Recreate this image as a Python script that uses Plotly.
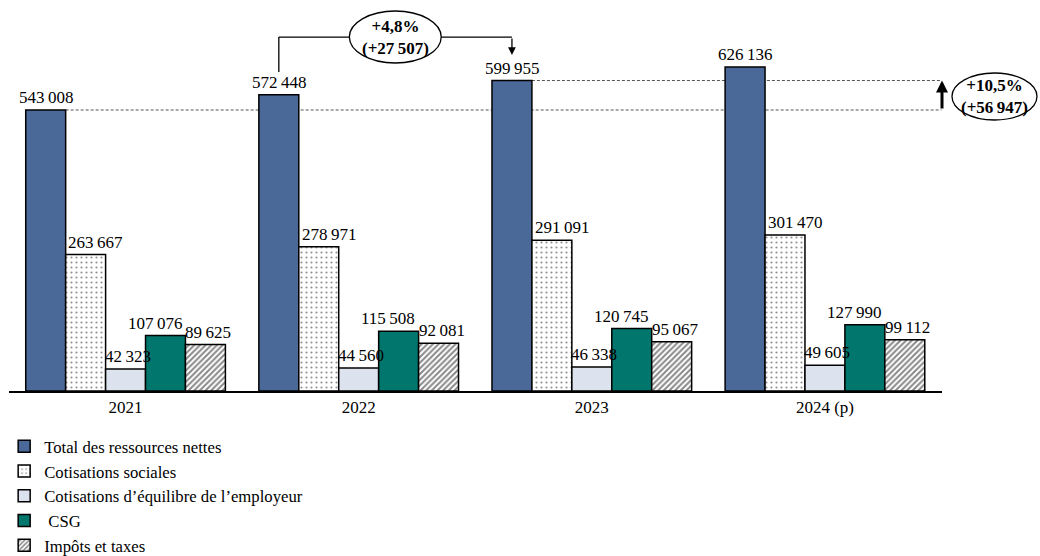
import plotly.graph_objects as go

# Years and series (values in k€)
years = ["2021", "2022", "2023", "2024 (p)"]
total_ressources = [543008, 572448, 599955, 626136]
cotisations_sociales = [263667, 278971, 291091, 301470]
cotisations_employeur = [42323, 44560, 46338, 49605]
csg = [107076, 115508, 120745, 127990]
impots_taxes = [89625, 92081, 95067, 99112]

series_names = [
    "Total des ressources nettes",
    "Cotisations sociales",
    "Cotisations d’équilibre de l’employeur",
    " CSG",
    "Impôts et taxes",
]

# horizontal nudge (px) of each series' value labels
label_shift = [0, 10, 2, -11, 3]

FONT = "Liberation Serif, Times New Roman, DejaVu Serif, serif"


def fmt(v):
    return f"{v:,}".replace(",", "\u2009")


def fmt_signed(v):
    return "+" + fmt(v)


fig = go.Figure()

styles = [
    dict(color="#4A6898", pattern=None),
    dict(color="white", pattern=dict(shape=".", fgcolor="#222222", bgcolor="white", size=5, solidity=0.15)),
    dict(color="#DCE3EE", pattern=None),
    dict(color="#00766C", pattern=None),
    dict(color="white", pattern=dict(shape="/", fgcolor="#111111", bgcolor="white", size=4, solidity=0.5)),
]

all_series = [total_ressources, cotisations_sociales, cotisations_employeur, csg, impots_taxes]

for name, vals, st in zip(series_names, all_series, styles):
    marker = dict(color=st["color"], line=dict(color="black", width=1.5))
    if st["pattern"]:
        marker["pattern"] = st["pattern"]
    fig.add_trace(go.Bar(x=years, y=vals, name=name, marker=marker))

bargap = 0.1435
w = 1 - bargap
bar_w = w / 5
off_total = -w / 2 + bar_w / 2   # centre offset of the first bar in each group

annotations = []

# value labels above each bar
for j, vals in enumerate(all_series):
    for i, v in enumerate(vals):
        annotations.append(dict(
            x=i + off_total + j * bar_w, y=v, xref="x", yref="y",
            text=fmt(v), showarrow=False, xanchor="center", yanchor="bottom",
            xshift=label_shift[j], yshift=1,
            font=dict(family=FONT, size=17, color="black"),
        ))

# Evolution figures
g_22_23 = total_ressources[2] - total_ressources[1]
p_22_23 = g_22_23 / total_ressources[1] * 100
g_21_23 = total_ressources[2] - total_ressources[0]
p_21_23 = g_21_23 / total_ressources[0] * 100

ymax = 381 / 0.0005175
y_bracket = 684000
shapes = []

# dashed reference lines (2021 and 2023 totals)
for k in (0, 2):
    shapes.append(dict(type="line", xref="x", yref="y", x0=k + off_total + bar_w / 2, x1=3.5,
                       y0=total_ressources[k], y1=total_ressources[k],
                       line=dict(color="#555555", width=1, dash="3px,2px"), layer="below"))

# bracket between 2022 and 2023 totals
x22 = 1 + off_total
x23 = 2 + off_total
shapes.append(dict(type="line", xref="x", yref="y", x0=x22, x1=x22, y0=616400, y1=y_bracket,
                   line=dict(color="black", width=1.3)))
shapes.append(dict(type="line", xref="x", yref="y", x0=x22, x1=x23, y0=y_bracket, y1=y_bracket,
                   line=dict(color="black", width=1.3)))
shapes.append(dict(type="circle", xref="x", yref="y", x0=0.96, x1=1.354, y0=633800, y1=734300,
                   line=dict(color="black", width=1.3), fillcolor="white"))

# ellipse on the right
shapes.append(dict(type="circle", xref="paper", yref="y", x0=1.0107, x1=1.1018, y0=523700, y1=614500,
                   line=dict(color="black", width=1.3), fillcolor="white"))

annotations += [
    dict(x=x23, y=649300, xref="x", yref="y", ax=x23, ay=y_bracket, axref="x", ayref="y",
         showarrow=True, arrowhead=2, arrowsize=1.2, arrowwidth=1.3, arrowcolor="black", text=""),
    dict(x=1.157, y=y_bracket, xref="x", yref="y", showarrow=False, xanchor="center",
         text=f"<b>{p_22_23:+.1f}%".replace(".", ",") + f"<br>({fmt_signed(g_22_23)})</b>",
         font=dict(family=FONT, size=17, color="black")),
    dict(x=1.0, y=total_ressources[2], xref="paper", yref="y", ax=0, ay=total_ressources[0],
         axref="pixel", ayref="y", showarrow=True, arrowhead=2, arrowsize=0.8, arrowwidth=3,
         arrowcolor="black", text=""),
    dict(x=1.0568, y=570000, xref="paper", yref="y", showarrow=False, xanchor="center",
         text=f"<b>{p_21_23:+.1f}%".replace(".", ",") + f"<br>({fmt_signed(g_21_23)})</b>",
         font=dict(family=FONT, size=17, color="black")),
]

fig.update_layout(
    width=1040, height=556,
    margin=dict(l=9, r=98, t=10, b=165, autoexpand=False),
    paper_bgcolor="white", plot_bgcolor="white",
    barmode="group", bargap=bargap, bargroupgap=0,
    font=dict(family=FONT, size=17, color="black"),
    showlegend=True,
    legend=dict(x=0.004, y=1 - 429 / 556, xref="container", yref="container",
                xanchor="left", yanchor="top", orientation="v",
                traceorder="normal", font=dict(family=FONT, size=16.7),
                itemwidth=30, bgcolor="rgba(0,0,0,0)"),
    shapes=shapes, annotations=annotations,
)
fig.update_xaxes(showline=True, linecolor="black", linewidth=1.5, ticks="", showgrid=False,
                 tickfont=dict(family=FONT, size=17))
fig.update_yaxes(visible=False, range=[0, ymax], showgrid=False, zeroline=False)

fig.write_html("out.html")
